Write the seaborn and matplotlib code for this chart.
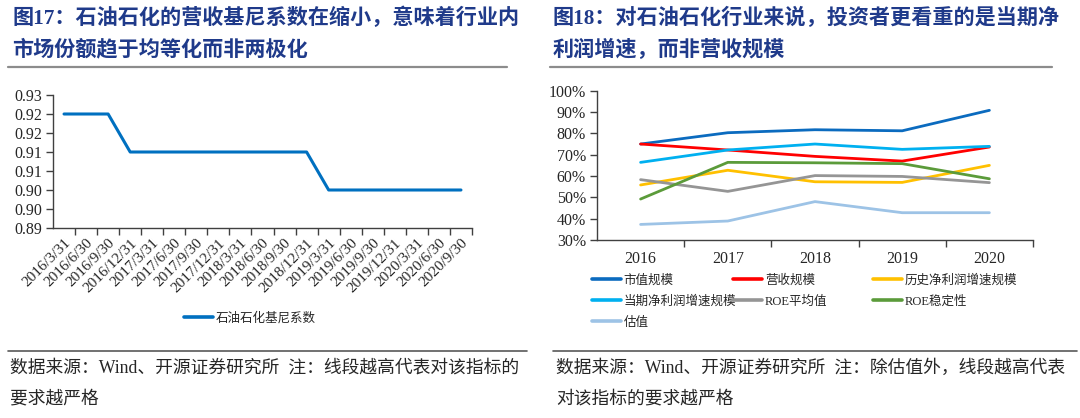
import matplotlib
matplotlib.use("Agg")
import matplotlib.pyplot as plt
import seaborn as sns
import pandas as pd
from matplotlib.lines import Line2D

# ---------------- data ----------------
quarters = ["2016/3/31", "2016/6/30", "2016/9/30", "2016/12/31",
            "2017/3/31", "2017/6/30", "2017/9/30", "2017/12/31",
            "2018/3/31", "2018/6/30", "2018/9/30", "2018/12/31",
            "2019/3/31", "2019/6/30", "2019/9/30", "2019/12/31",
            "2020/3/31", "2020/6/30", "2020/9/30"]
gini = [0.925, 0.925, 0.925,
        0.915, 0.915, 0.915, 0.915, 0.915, 0.915, 0.915, 0.915, 0.915,
        0.905, 0.905, 0.905, 0.905, 0.905, 0.905, 0.905]
gini_ticks = [0.895, 0.900, 0.905, 0.910, 0.915, 0.920, 0.925, 0.930]
gini_tick_labels = ["0.89", "0.90", "0.90", "0.91", "0.91", "0.92", "0.92", "0.93"]
gini_name = "石油石化基尼系数"

years = ["2016", "2017", "2018", "2019", "2020"]
series_names = ["市值规模", "营收规模", "历史净利润增速规模", "当期净利润增速规模",
                "ROE平均值", "ROE稳定性", "估值"]
mkt_cap = [75.0, 80.3, 81.7, 81.2, 90.8]
revenue = [75.0, 72.2, 69.2, 67.0, 73.6]
hist_profit = [55.8, 62.7, 57.3, 57.0, 65.0]
cur_profit = [66.4, 72.2, 75.0, 72.5, 73.9]
roe_avg = [58.3, 52.8, 60.2, 59.8, 56.9]
roe_stab = [49.2, 66.4, 66.2, 65.8, 58.7]
valuation = [37.3, 38.9, 48.0, 42.8, 42.8]
pct_ticks = [30, 40, 50, 60, 70, 80, 90, 100]

series_colors = ["#0B6BBF", "#FF0000", "#FFC000", "#00B0F0",
                 "#959595", "#5B9B3A", "#9DC3E6"]

title_left = ["图17：石油石化的营收基尼系数在缩小，意味着行业内",
              "市场份额趋于均等化而非两极化"]
title_right = ["图18：对石油石化行业来说，投资者更看重的是当期净",
               "利润增速，而非营收规模"]
foot_left = ["数据来源：Wind、开源证券研究所  注：线段越高代表对该指标的",
             "要求越严格"]
foot_right = ["数据来源：Wind、开源证券研究所  注：除估值外，线段越高代表",
              "对该指标的要求越严格"]

# ---------------- style ----------------
sns.set_style("ticks")
plt.rcParams["font.family"] = ["Liberation Serif", "Noto Sans CJK SC", "DejaVu Sans"]
axis_col = "#404040"
text_col = "#262626"
title_col = "#1F3A8A"

W, H = 1080, 418
fig = plt.figure(figsize=(W / 100, H / 100), dpi=100)


def fx(px):
    return px / W


def fy(py):
    return 1 - py / H


# ---------------- left chart ----------------
ax1 = fig.add_axes([fx(53), fy(228), fx(472) - fx(53), fy(95) - fy(228)])
df1 = pd.DataFrame({"季度": quarters, "系数": gini})
sns.lineplot(data=df1, x="季度", y="系数", ax=ax1, sort=False,
             color="#0070C0", linewidth=2.2, legend=False)
ax1.set_xlim(-0.5, len(quarters) - 0.5)
ax1.set_ylim(gini_ticks[0], gini_ticks[-1])
ax1.set_yticks(gini_ticks)
ax1.set_yticklabels(gini_tick_labels)
ax1.set_xticks(range(len(quarters)))
ax1.set_xticklabels(quarters, rotation=45, ha="right", va="top",
                    rotation_mode="anchor")
ax1.set_xticks([i + 0.5 for i in range(len(quarters))], minor=True)
ax1.tick_params(axis="x", which="major", length=0, pad=6, labelsize=11,
                labelcolor=text_col)
ax1.tick_params(axis="x", which="minor", length=5, width=1, color=axis_col,
                direction="out")
ax1.tick_params(axis="y", length=5, width=1, color=axis_col, labelsize=11.5,
                labelcolor=text_col, direction="out", pad=3)
ax1.set_xlabel("")
ax1.set_ylabel("")
for s in ["top", "right"]:
    ax1.spines[s].set_visible(False)
for s in ["left", "bottom"]:
    ax1.spines[s].set_color(axis_col)
    ax1.spines[s].set_linewidth(1)

fig.legend(handles=[Line2D([], [], color="#0070C0", lw=2.6)], labels=[gini_name],
           loc="center left", bbox_to_anchor=(fx(184), fy(318)), frameon=False,
           handlelength=2.3, handletextpad=0.25,
           borderaxespad=0, borderpad=0,
           prop={"family": ["Noto Sans CJK SC"], "size": 9})

# ---------------- right chart ----------------
ax2 = fig.add_axes([fx(597), fy(240), fx(1033) - fx(597), fy(90.7) - fy(240)])
all_vals = [mkt_cap, revenue, hist_profit, cur_profit, roe_avg, roe_stab, valuation]
rows = []
for name, vals in zip(series_names, all_vals):
    for y, v in zip(years, vals):
        rows.append({"年份": y, "分位": v, "指标": name})
df2 = pd.DataFrame(rows)
sns.lineplot(data=df2, x="年份", y="分位", hue="指标", hue_order=series_names,
             palette=dict(zip(series_names, series_colors)), sort=False,
             linewidth=2.0, ax=ax2, legend=False)
ax2.set_xlim(-0.5, len(years) - 0.5)
ax2.set_ylim(pct_ticks[0], pct_ticks[-1])
ax2.set_yticks(pct_ticks)
ax2.set_yticklabels([f"{t}%" for t in pct_ticks])
ax2.set_xticks(range(len(years)))
ax2.set_xticklabels(years)
ax2.set_xticks([i + 0.5 for i in range(len(years))], minor=True)
ax2.tick_params(axis="x", which="major", length=0, pad=8, labelsize=11.5,
                labelcolor=text_col)
ax2.tick_params(axis="x", which="minor", length=5, width=1, color=axis_col,
                direction="out")
ax2.tick_params(axis="y", length=5, width=1, color=axis_col, labelsize=11.5,
                labelcolor=text_col, direction="out", pad=3)
ax2.set_xlabel("")
ax2.set_ylabel("")
for s in ["top", "right"]:
    ax2.spines[s].set_visible(False)
for s in ["left", "bottom"]:
    ax2.spines[s].set_color(axis_col)
    ax2.spines[s].set_linewidth(1)

# legend: 3 columns placed explicitly
col_x = [592, 733, 873]
col_items = [[0, 3, 6], [1, 4], [2, 5]]
for cx, idxs in zip(col_x, col_items):
    hs = [Line2D([], [], color=series_colors[i], lw=2.6) for i in idxs]
    ls = [series_names[i] for i in idxs]
    fig.legend(handles=hs, labels=ls, loc="upper left",
               bbox_to_anchor=(fx(cx), fy(274)), frameon=False,
               handlelength=2.3, handletextpad=0.25, labelspacing=0.72,
               borderaxespad=0, borderpad=0,
               prop={"family": ["Liberation Serif", "Noto Sans CJK SC"], "size": 9})

# ---------------- titles, rules, footers ----------------
for x0, lines in [(12, title_left), (553, title_right)]:
    fig.text(fx(x0), fy(18), lines[0], fontsize=15.2, weight="bold",
             color=title_col, va="center", ha="left")
    fig.text(fx(x0), fy(50), lines[1], fontsize=15.2, weight="bold",
             color=title_col, va="center", ha="left")

for x0, x1 in [(8, 507), (550, 1052)]:
    fig.add_artist(Line2D([fx(x0), fx(x1)], [fy(67), fy(67)],
                          transform=fig.transFigure, color="#8c8c8c", lw=1.6))

for x0, x1 in [(8, 527), (553, 1077)]:
    fig.add_artist(Line2D([fx(x0), fx(x1)], [fy(351), fy(351)],
                          transform=fig.transFigure, color="#595959", lw=1.2))

for x0, lines in [(10, foot_left), (556, foot_right)]:
    fig.text(fx(x0), fy(368), lines[0], fontsize=12.8, color=text_col,
             va="center", ha="left")
    fig.text(fx(x0), fy(399), lines[1], fontsize=12.8, color=text_col,
             va="center", ha="left")

fig.savefig("out.png", dpi=100)
